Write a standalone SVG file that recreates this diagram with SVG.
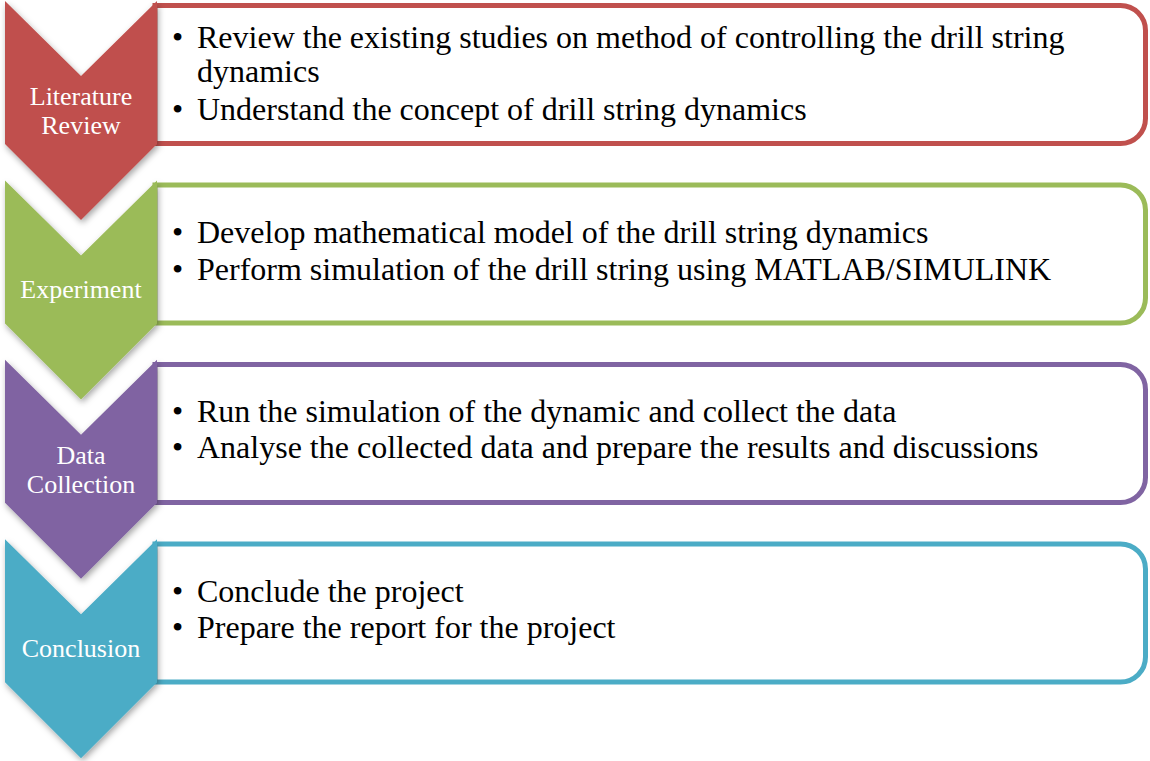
<svg xmlns="http://www.w3.org/2000/svg" width="1150" height="761" viewBox="0 0 1150 761">
  <defs>
    <filter id="shadow" x="-20%" y="-10%" width="140%" height="130%">
      <feDropShadow dx="1.5" dy="3" stdDeviation="3" flood-color="#000" flood-opacity="0.35"/>
    </filter>
  </defs>
  <style>
    .box { fill: #FFFFFF; stroke-width: 5; }
    .chev { filter: url(#shadow); }
    .item { font-family: "Liberation Serif", "Times New Roman", serif; font-size: 32px; fill: #000; }
    .label { font-family: "Liberation Serif", "Times New Roman", serif; font-size: 26px; fill: #FFFFFF; text-anchor: middle; }
    .red { fill: #C0504D; } .redS { stroke: #C0504D; }
    .green { fill: #9BBB59; } .greenS { stroke: #9BBB59; }
    .purple { fill: #8064A2; } .purpleS { stroke: #8064A2; }
    .teal { fill: #4BACC6; } .tealS { stroke: #4BACC6; }
  </style>

  <!-- Stage 1: Literature Review -->
  <g id="literature-review">
    <path class="box redS" d="M155,5.5 H1120.5 A25,25 0 0 1 1145.5,30.5 V118.5 A25,25 0 0 1 1120.5,143.5 H155 Z"/>
    <path class="chev red" d="M5,1 L81,76 L157,1 V144 L81,220 L5,144 Z"/>
    <text class="label" x="81" y="105.3">Literature</text>
    <text class="label" x="81" y="133.5">Review</text>
    <text class="item" x="172" y="48.3">•</text>
    <text class="item" x="197" y="48.3">Review the existing studies on method of controlling the drill string</text>
    <text class="item" x="197" y="81.7">dynamics</text>
    <text class="item" x="172" y="120">•</text>
    <text class="item" x="197" y="120">Understand the concept of drill string dynamics</text>
  </g>

  <!-- Stage 2: Experiment -->
  <g id="experiment">
    <path class="box greenS" d="M155,185 H1120.5 A25,25 0 0 1 1145.5,210 V298 A25,25 0 0 1 1120.5,323 H155 Z"/>
    <path class="chev green" d="M5,180.4 L81,255.4 L157,180.4 V323.4 L81,399.4 L5,323.4 Z"/>
    <text class="label" x="81" y="298.3">Experiment</text>
    <text class="item" x="172" y="243.3">•</text>
    <text class="item" x="197" y="243.3">Develop mathematical model of the drill string dynamics</text>
    <text class="item" x="172" y="280">•</text>
    <text class="item" x="197" y="280">Perform simulation of the drill string using MATLAB/SIMULINK</text>
  </g>

  <!-- Stage 3: Data Collection -->
  <g id="data-collection">
    <path class="box purpleS" d="M155,364.5 H1120.5 A25,25 0 0 1 1145.5,389.5 V477.5 A25,25 0 0 1 1120.5,502.5 H155 Z"/>
    <path class="chev purple" d="M5,359.8 L81,434.8 L157,359.8 V502.8 L81,578.8 L5,502.8 Z"/>
    <text class="label" x="81" y="464.3">Data</text>
    <text class="label" x="81" y="492.5">Collection</text>
    <text class="item" x="172" y="421.7">•</text>
    <text class="item" x="197" y="421.7">Run the simulation of the dynamic and collect the data</text>
    <text class="item" x="172" y="458.3">•</text>
    <text class="item" x="197" y="458.3">Analyse the collected data and prepare the results and discussions</text>
  </g>

  <!-- Stage 4: Conclusion -->
  <g id="conclusion">
    <path class="box tealS" d="M155,544 H1120.5 A25,25 0 0 1 1145.5,569 V657 A25,25 0 0 1 1120.5,682 H155 Z"/>
    <path class="chev teal" d="M5,539.2 L81,614.2 L157,539.2 V682.2 L81,758.2 L5,682.2 Z"/>
    <text class="label" x="81" y="656.7">Conclusion</text>
    <text class="item" x="172" y="601.7">•</text>
    <text class="item" x="197" y="601.7">Conclude the project</text>
    <text class="item" x="172" y="638.3">•</text>
    <text class="item" x="197" y="638.3">Prepare the report for the project</text>
  </g>

  <!-- no connectors: the stages are linked by the chevron shapes themselves -->
  <g id="connectors"/>
</svg>
